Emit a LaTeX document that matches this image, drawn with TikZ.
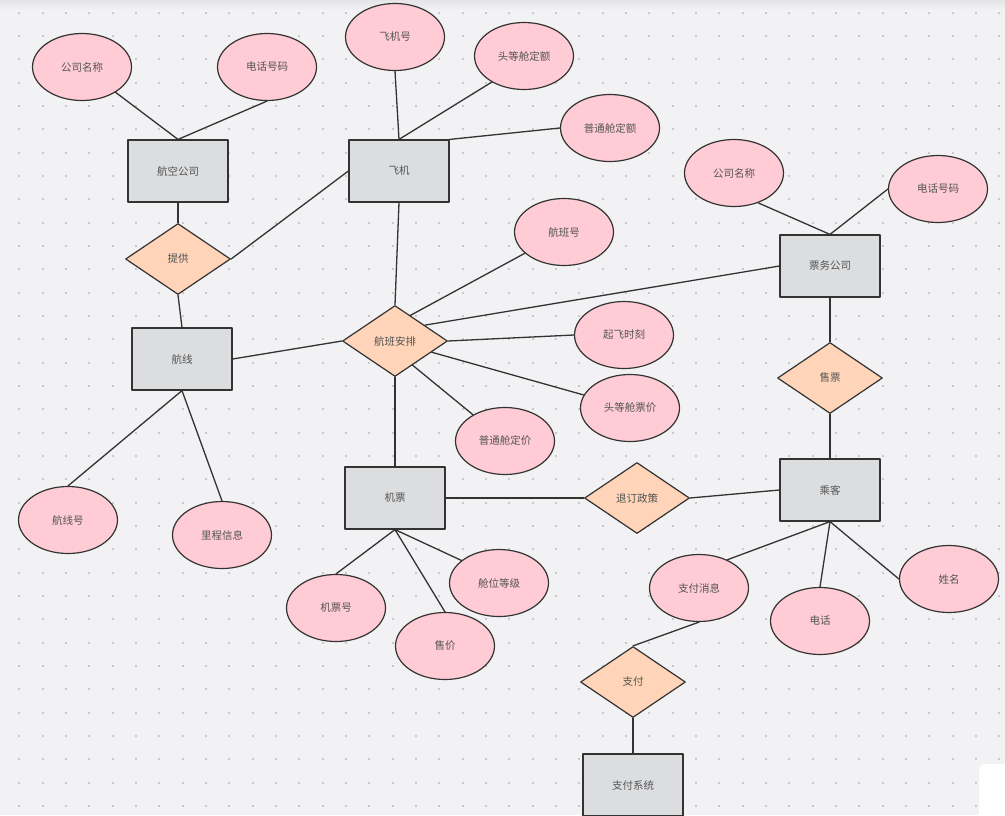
\documentclass[tikz,border=0pt]{standalone}
\usepackage{fontspec}
\setmainfont{Noto Sans CJK SC}
\usetikzlibrary{shapes.geometric}
\definecolor{ffccd5}{rgb}{1.0,0.8,0.835}
\definecolor{ffd4b8}{rgb}{1.0,0.83,0.72}
\definecolor{dcdddf}{rgb}{0.863,0.867,0.875}
\definecolor{f2f2f4}{rgb}{0.949,0.949,0.957}
\definecolor{e6e6e8}{rgb}{0.9,0.9,0.91}
\definecolor{c8c8cc}{rgb}{0.79,0.79,0.8}
\definecolor{zzzzzz}{rgb}{0.2,0.2,0.2}
\definecolor{qqqqqq}{rgb}{0.33,0.33,0.33}
\begin{document}
\begin{tikzpicture}[line cap=round,line join=round,x=1.0pt,y=-1.0pt,
  every node/.style={font=\fontsize{10.5}{12}\selectfont,text=qqqqqq,inner sep=0pt},
  ent/.style={draw=zzzzzz,line width=1.2pt,fill=dcdddf,minimum width=100pt,minimum height=62pt},
  attr/.style={ellipse,draw=zzzzzz,line width=1.2pt,fill=ffccd5,minimum width=99pt,minimum height=67pt},
  rel/.style={diamond,draw=zzzzzz,line width=1.2pt,fill=ffd4b8,minimum width=105pt,minimum height=71pt},
  link/.style={draw=zzzzzz,line width=1.3pt}]
\clip (0,0) rectangle (1005,815);
\useasboundingbox (0,0) rectangle (1005,815);
\fill[f2f2f4] (0,0) rectangle (1005,815);
\shade[top color=e6e6e8,bottom color=f2f2f4] (0,0) rectangle (1005,10);
\foreach \i in {0,...,42}
  \foreach \j in {0,...,34}
    \fill[c8c8cc] ({18.3+\i*23.33},{11.7+\j*23.33}) rectangle +(2,2);
\fill[white,rounded corners=6pt] (979,764) rectangle (1015,830);
% entities
\node[ent] (hkgs) at (178,171) {航空公司};
\node[ent] (fj) at (399,171) {飞机};
\node[ent] (pwgs) at (830,266) {票务公司};
\node[ent] (hx) at (182,359) {航线};
\node[ent] (jp) at (395,498) {机票};
\node[ent] (ck) at (830,490) {乘客};
\node[ent] (zfxt) at (633,785) {支付系统};
% relations
\node[rel] (tg) at (178,259) {提供};
\node[rel] (hbap) at (395,341) {航班安排};
\node[rel] (sp) at (830,378) {售票};
\node[rel] (tdzc) at (637,498) {退订政策};
\node[rel] (zf) at (633,682) {支付};
% attributes
\node[attr] (gsmc1) at (82,67) {公司名称};
\node[attr] (dhhm1) at (267,67) {电话号码};
\node[attr] (fjh) at (395,37) {飞机号};
\node[attr] (tdcde) at (524,56) {头等舱定额};
\node[attr] (ptcde) at (610,128) {普通舱定额};
\node[attr] (gsmc2) at (734,173) {公司名称};
\node[attr] (dhhm2) at (938,189) {电话号码};
\node[attr] (hbh) at (564,232) {航班号};
\node[attr] (qfsk) at (624,335) {起飞时刻};
\node[attr] (tdcpj) at (630,408) {头等舱票价};
\node[attr] (ptcdj) at (505,441) {普通舱定价};
\node[attr] (hxh) at (68,520) {航线号};
\node[attr] (lcxx) at (222,535) {里程信息};
\node[attr] (jph) at (336,608) {机票号};
\node[attr] (cwdj) at (499,583) {舱位等级};
\node[attr] (sj) at (445,646) {售价};
\node[attr] (zfxx) at (699,588) {支付消息};
\node[attr] (dh) at (820,621) {电话};
\node[attr] (xm) at (949,579) {姓名};
% links
\draw[link] (gsmc1) -- (hkgs.north);
\draw[link] (dhhm1.south) -- (hkgs.north);
\draw[link] (hkgs.south) -- (tg.north);
\draw[link] (tg.east) -- (fj.west);
\draw[link] (fjh.south) -- (fj.north);
\draw[link] (tdcde.-141) -- (fj.north);
\draw[link] (ptcde.west) -- (fj.north east);
\draw[link] (fj.south) -- (hbap.north);
\draw[link] (hbh) -- (hbap.59);
\draw[link] (pwgs.west) -- (hbap.28);
\draw[link] (qfsk.west) -- (hbap.east);
\draw[link] (tdcpj) -- (hbap.-17);
\draw[link] (ptcdj) -- (hbap.-54);
\draw[link] (hbap.south) -- (jp.north);
\draw[link] (hx.east) -- (hbap.west);
\draw[link] (tg.south) -- (hx.north);
\draw[link] (hx.south) -- (hxh.north);
\draw[link] (hx.south) -- (lcxx.north);
\draw[link] (jp.east) -- (tdzc.west);
\draw[link] (tdzc.east) -- (ck.west);
\draw[link] (jp.south) -- (jph.north);
\draw[link] (jp.south) -- (sj.north);
\draw[link] (jp.south) -- (cwdj.149);
\draw[link] (pwgs.south) -- (sp.north);
\draw[link] (sp.south) -- (ck.north);
\draw[link] (gsmc2.-51) -- (pwgs.north);
\draw[link] (dhhm2.west) -- (pwgs.north);
\draw[link] (ck.south) -- (zfxx.45);
\draw[link] (ck.south) -- (dh.north);
\draw[link] (ck.south) -- (xm.west);
\draw[link] (zfxx.south) -- (zf.north);
\draw[link] (zf.south) -- (zfxt.north);
\end{tikzpicture}
\end{document}
